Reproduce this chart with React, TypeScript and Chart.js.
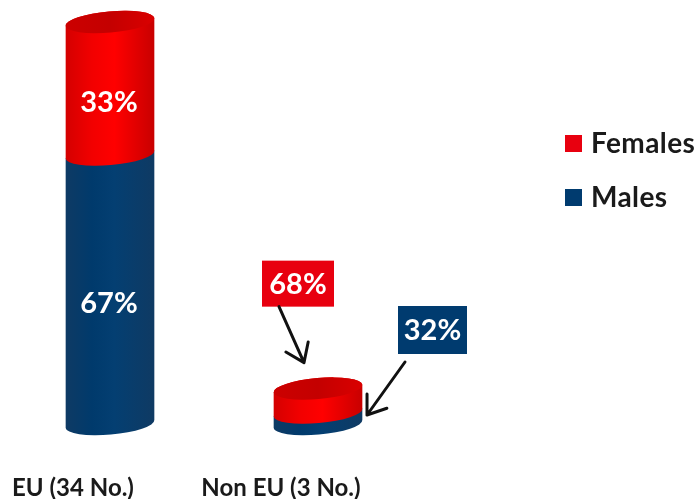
import React, { useEffect, useRef } from "react";
import { Chart, registerables } from "chart.js";

Chart.register(...registerables);

const categories = ["EU (34 No.)", "Non EU (3 No.)"];
const totals = [34, 3];
const maleCounts = [22.78, 0.96];
const femaleCounts = [11.22, 2.04];
const FONT = "Lato, Carlito, sans-serif";

type Shade = { edgeL: string; mid: string; bright: string; edgeR: string };
const shades: Record<string, Shade> = {
  Females: { edgeL: "#d40000", mid: "#f20000", bright: "#ff0000", edgeR: "#c80000" },
  Males: { edgeL: "#0e3a64", mid: "#003a6c", bright: "#043f72", edgeR: "#0f3a63" },
};

const TILT = (-5 * Math.PI) / 180;
const CAP_RY = 10.5;

// Small segments get a boxed label with an arrow instead of an inline one.
const callouts: Record<string, { box: number[]; from: number[]; to: number[] }> = {
  Females: { box: [-56, -152, 72, 46], from: [-39, -106], to: [-14, -50] },
  Males: { box: [80, -118, 69, 48], from: [87, -62], to: [49, -9] },
};

function arrow(ctx: CanvasRenderingContext2D, from: number[], to: number[]) {
  const a = Math.atan2(to[1] - from[1], to[0] - from[0]);
  ctx.strokeStyle = "#111";
  ctx.lineWidth = 3;
  ctx.lineCap = "round";
  ctx.lineJoin = "round";
  ctx.beginPath();
  ctx.moveTo(from[0], from[1]);
  ctx.lineTo(to[0], to[1]);
  for (const s of [-1, 1]) {
    ctx.moveTo(to[0], to[1]);
    ctx.lineTo(to[0] - 21 * Math.cos(a + s * 0.62), to[1] - 21 * Math.sin(a + s * 0.62));
  }
  ctx.stroke();
}

const cylinderPlugin = {
  id: "cylinders",
  beforeDatasetsDraw(chart: any) {
    const ctx: CanvasRenderingContext2D = chart.ctx;
    ctx.save();
    chart.data.datasets.forEach((ds: any, di: number) => {
      const shade = shades[ds.label];
      chart.getDatasetMeta(di).data.forEach((bar: any) => {
        const rx = bar.width / 2 + 0.5;
        const g = ctx.createLinearGradient(bar.x - rx, 0, bar.x + rx, 0);
        g.addColorStop(0, shade.edgeL);
        g.addColorStop(0.3, shade.mid);
        g.addColorStop(0.55, shade.bright);
        g.addColorStop(1, shade.edgeR);
        ctx.fillStyle = g;
        ctx.beginPath();
        ctx.ellipse(bar.x, bar.y, rx, CAP_RY, TILT, Math.PI, 2 * Math.PI);
        ctx.ellipse(bar.x, bar.base, rx, CAP_RY, TILT, 0, Math.PI);
        ctx.closePath();
        ctx.fill();
        if (di === chart.data.datasets.length - 1) {
          const cap = ctx.createLinearGradient(bar.x - rx, 0, bar.x + rx, 0);
          cap.addColorStop(0, "#cc0000");
          cap.addColorStop(0.5, "#c40000");
          cap.addColorStop(1, "#da0000");
          ctx.fillStyle = cap;
          ctx.beginPath();
          ctx.ellipse(bar.x, bar.y, rx, CAP_RY, TILT, 0, 2 * Math.PI);
          ctx.fill();
        }
      });
    });

    ctx.textAlign = "center";
    ctx.textBaseline = "middle";
    ctx.font = `bold 29px ${FONT}`;
    chart.data.datasets.forEach((ds: any, di: number) => {
      chart.getDatasetMeta(di).data.forEach((bar: any, i: number) => {
        const text = `${Math.round((ds.data[i] / totals[i]) * 100)}%`;
        if (bar.base - bar.y > 60) {
          ctx.fillStyle = "#fff";
          ctx.fillText(text, bar.x - 1, (bar.y + bar.base) / 2 + 14);
          return;
        }
        const c = callouts[ds.label];
        const [bx, by, bw, bh] = c.box;
        ctx.fillStyle = ds.backgroundColor;
        ctx.fillRect(bar.x + bx, bar.base + by, bw, bh);
        ctx.fillStyle = "#fff";
        ctx.fillText(text, bar.x + bx + bw / 2, bar.base + by + bh / 2 + 1);
        arrow(ctx, [bar.x + c.from[0], bar.base + c.from[1]], [bar.x + c.to[0], bar.base + c.to[1]]);
      });
    });
    ctx.restore();
    return false;
  },
  afterDraw(chart: any) {
    // Legend entries, top entry being the upper segment of the stack.
    const ctx: CanvasRenderingContext2D = chart.ctx;
    ctx.save();
    ctx.font = `bold 28px ${FONT}`;
    ctx.letterSpacing = "0.4px";
    ctx.textAlign = "left";
    ctx.textBaseline = "middle";
    [...chart.data.datasets].reverse().forEach((ds: any, i: number) => {
      const y = 144 + i * 54;
      ctx.fillStyle = ds.backgroundColor;
      ctx.fillRect(565, y - 9, 17, 17);
      ctx.fillStyle = "#1a1a1a";
      ctx.fillText(ds.label, 591, y);
    });
    ctx.restore();
  },
};

export default function App() {
  const ref = useRef<HTMLCanvasElement>(null);
  useEffect(() => {
    const chart = new Chart(ref.current!, {
      type: "bar",
      data: {
        labels: categories,
        datasets: [
          { label: "Males", data: maleCounts, backgroundColor: "#003b6f" },
          { label: "Females", data: femaleCounts, backgroundColor: "#e8000f" },
        ],
      },
      options: {
        animation: false,
        responsive: false,
        events: [],
        layout: { autoPadding: false, padding: { top: 22, left: 6, right: 277, bottom: 0 } },
        datasets: { bar: { barThickness: 88 } },
        plugins: { legend: { display: false }, tooltip: { enabled: false } },
        scales: {
          x: {
            stacked: true,
            grid: { display: false, drawTicks: false },
            border: { display: false },
            afterFit: (s: any) => {
              s.height = 75;
              s.paddingLeft = 0;
              s.paddingRight = 0;
            },
            ticks: {
              padding: 50,
              labelOffset: -37,
              maxRotation: 0,
              autoSkip: false,
              color: "#1a1a1a",
              font: { family: FONT, size: 24, weight: "bold" },
            },
          },
          y: { stacked: true, display: false, min: 0, max: 34 },
        },
      },
      plugins: [cylinderPlugin],
    } as any);
    return () => chart.destroy();
  }, []);
  return (
    <div style={{ position: "absolute", left: 0, top: 0, width: 699, height: 499, background: "#fff" }}>
      <canvas ref={ref} width={699} height={499} style={{ display: "block" }} />
    </div>
  );
}
